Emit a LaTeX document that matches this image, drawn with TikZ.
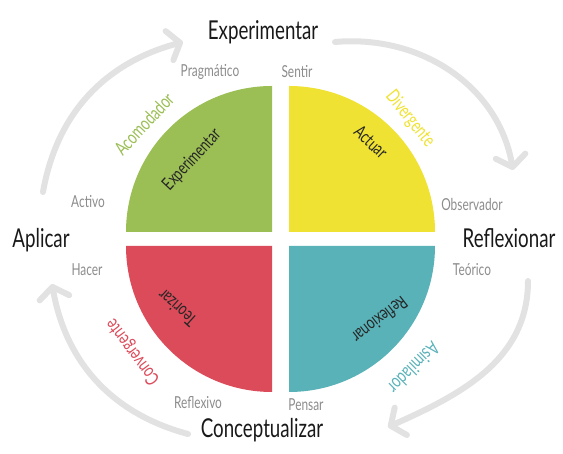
\documentclass[tikz,border=0pt]{standalone}
\usepackage{fontspec}
\setmainfont{Lato}[FakeStretch=0.72]
\usepackage{xcolor}
\definecolor{kolbgreen}{HTML}{9BBE55}
\definecolor{kolbyellow}{HTML}{EFE232}
\definecolor{kolbred}{HTML}{DC4B5A}
\definecolor{kolbteal}{HTML}{5AB2B9}
\definecolor{cyclegrey}{HTML}{E2E2E2}
\definecolor{notegrey}{HTML}{8C8C8C}
\usepackage{tikz}
\usetikzlibrary{arrows.meta}

\begin{document}
\begin{tikzpicture}[x=1pt,y=1pt,
    bigword/.style={inner sep=0pt, text=black!90, font=\fontsize{26}{26}\selectfont},
    sideword/.style={inner sep=0pt, text=notegrey, font=\fontsize{16.5}{16.5}\selectfont},
    quadword/.style={inner sep=0pt, text=black!85, font=\fontsize{18}{18}\selectfont},
    stylename/.style={inner sep=0pt, font=\fontsize{19}{19}\selectfont},
    cyclearrow/.style={line width=6pt, color=cyclegrey, line cap=round,
      -{Straight Barb[length=11pt,width=30pt,round]}}]
  \useasboundingbox (0,0) rectangle (563,454);
  % Four quadrants
  \fill[kolbgreen]  (272,222) -- ++(-146,0) arc (180:90:146) -- cycle;
  \fill[kolbyellow] (289,222) -- ++(0,146) arc (90:0:146) -- cycle;
  \fill[kolbred]    (272,208) -- ++(-146,0) arc (180:270:146) -- cycle;
  \fill[kolbteal]   (289,208) -- ++(146,0) arc (0:-90:146) -- cycle;
  % Words inside the quadrants
  \node[quadword, rotate=47]  (qexp) at (192,294) {Experimentar};
  \node[quadword, rotate=-43] (qact) at (371,312) {Actuar};
  \node[quadword, rotate=138] (qteo) at (177,146) {Teorizar};
  \node[quadword, rotate=218] (qref) at (380,134) {Reflexionar};
  % Learning styles
  \node[stylename, text=kolbgreen, rotate=47]   (acom) at (144,330) {Acomodador};
  \node[stylename, text=kolbyellow, rotate=-51] (dive) at (410,335) {Divergente};
  \node[stylename, text=kolbred, rotate=127]    (conv) at (133,102) {Convergente};
  \node[stylename, text=kolbteal, rotate=225]   (asim) at (414,86)  {Asimilador};
  % Stages of the cycle
  \node[bigword] (exper) at (263,422) {Experimentar};
  \node[bigword] (refle) at (509,216) {Reflexionar};
  \node[bigword] (conce) at (262,24)  {Conceptualizar};
  \node[bigword] (aplic) at (41,214)  {Aplicar};
  % Small grey words
  \node[sideword] (prag) at (210,382) {Pragmático};
  \node[sideword] (sent) at (297,382) {Sentir};
  \node[sideword] (obse) at (472,250) {Observador};
  \node[sideword] (teor) at (472,184) {Teórico};
  \node[sideword] (pens) at (306,49)  {Pensar};
  \node[sideword] (refx) at (198,51)  {Reflexivo};
  \node[sideword] (hace) at (87,184)  {Hacer};
  \node[sideword] (acti) at (88,252)  {Activo};
  % Ends of the cycle arrows
  \coordinate (aplicOut) at (43,262);
  \coordinate (experIn)  at (183,412);
  \coordinate (experOut) at (335,412);
  \coordinate (refleIn)  at (513,284);
  \coordinate (refleOut) at (528,173);
  \coordinate (conceIn)  at (388,27);
  \coordinate (conceOut) at (188,20);
  \coordinate (aplicIn)  at (52,170);
  % Cycle arrows
  \draw[cyclearrow] (aplicOut) to[out=80, in=195] (experIn);
  \draw[cyclearrow] (experOut) to[out=5, in=100] (refleIn);
  \draw[cyclearrow] (refleOut) to[out=-90, in=24] (conceIn);
  \draw[cyclearrow] (conceOut) to[out=165, in=-80] (aplicIn);
\end{tikzpicture}
\end{document}
